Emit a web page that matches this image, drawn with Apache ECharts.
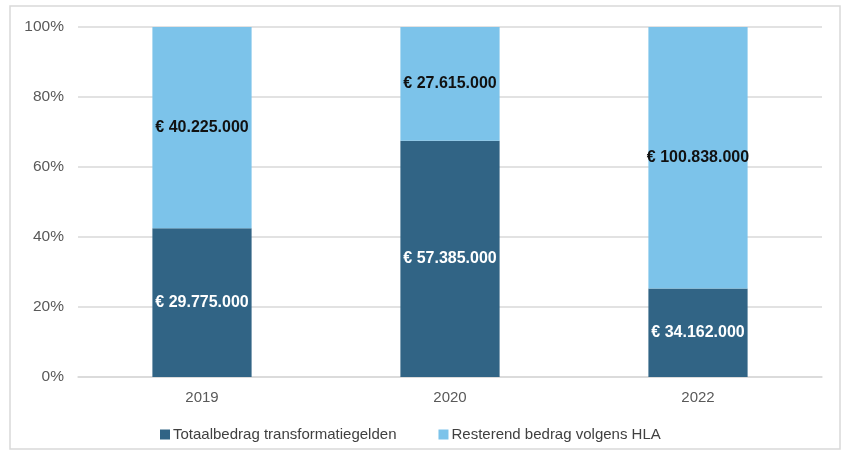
<!DOCTYPE html>
<html lang="nl">
<head>
    <meta charset="UTF-8">
    <title>Transformatiegelden</title>
    <script src="https://cdn.jsdelivr.net/npm/echarts@6/dist/echarts.min.js"></script>
    <style>
        html, body { margin: 0; padding: 0; background: #fff; }
    </style>
</head>
<body>
    <div id="chart" style="width: 843px; height: 452px;"></div>
    <script>
        // jaren en bedragen (euro)
        const years = ['2019', '2020', '2022'];
        const totaalTransformatie = [29775000, 57385000, 34162000];
        const resterendHLA = [40225000, 27615000, 100838000];
        const seriesNames = ['Totaalbedrag transformatiegelden', 'Resterend bedrag volgens HLA'];

        function fmtEuro(v) {
            return '€ ' + String(v).replace(/\B(?=(\d{3})+(?!\d))/g, '.');
        }

        // omzetten naar percentages voor 100% gestapeld
        const totals = years.map((y, i) => totaalTransformatie[i] + resterendHLA[i]);
        const pctTotaal = totaalTransformatie.map((v, i) => ({ value: v / totals[i] * 100, raw: v }));
        const pctRest = resterendHLA.map((v, i) => ({ value: v / totals[i] * 100, raw: v }));

        const font = '"Liberation Sans", Arial, sans-serif';
        const chart = echarts.init(document.getElementById('chart'));
        chart.setOption({
            animation: false,
            graphic: [{
                type: 'rect',
                shape: { x: 10, y: 6, width: 830, height: 443 },
                style: { fill: 'none', stroke: '#d9d9d9', lineWidth: 1.5 },
                silent: true
            }],
            grid: { left: 78, right: 21, top: 27, bottom: 75 },
            legend: {
                left: 155,
                top: 422,
                itemWidth: 10,
                itemHeight: 10,
                itemGap: 42,
                icon: 'rect',
                textStyle: { fontFamily: font, fontSize: 15, color: '#404040', padding: [0, 0, 0, -2] },
                data: seriesNames
            },
            xAxis: {
                type: 'category',
                data: years,
                axisLine: { lineStyle: { color: '#d9d9d9', width: 1.5 } },
                axisTick: { show: false },
                axisLabel: { fontFamily: font, fontSize: 15, color: '#595959', margin: 13 }
            },
            yAxis: {
                type: 'value',
                min: 0,
                max: 100,
                interval: 20,
                axisLabel: { formatter: '{value}%', fontFamily: font, fontSize: 15.5, color: '#595959', margin: 14 },
                splitLine: { lineStyle: { color: '#d9d9d9', width: 1.5 } },
                axisLine: { show: false },
                axisTick: { show: false }
            },
            series: [{
                name: seriesNames[0],
                type: 'bar',
                stack: 'tot',
                barWidth: '40%',
                data: pctTotaal,
                itemStyle: { color: '#316485' },
                label: {
                    show: true,
                    position: 'inside',
                    formatter: p => fmtEuro(p.data.raw),
                    fontFamily: font,
                    fontSize: 16,
                    fontWeight: 'bold',
                    color: '#ffffff'
                }
            }, {
                name: seriesNames[1],
                type: 'bar',
                stack: 'tot',
                barWidth: '40%',
                data: pctRest,
                itemStyle: { color: '#7cc3ea' },
                label: {
                    show: true,
                    position: 'inside',
                    formatter: p => fmtEuro(p.data.raw),
                    fontFamily: font,
                    fontSize: 16,
                    fontWeight: 'bold',
                    color: '#111111'
                }
            }]
        });
    </script>
</body>
</html>
